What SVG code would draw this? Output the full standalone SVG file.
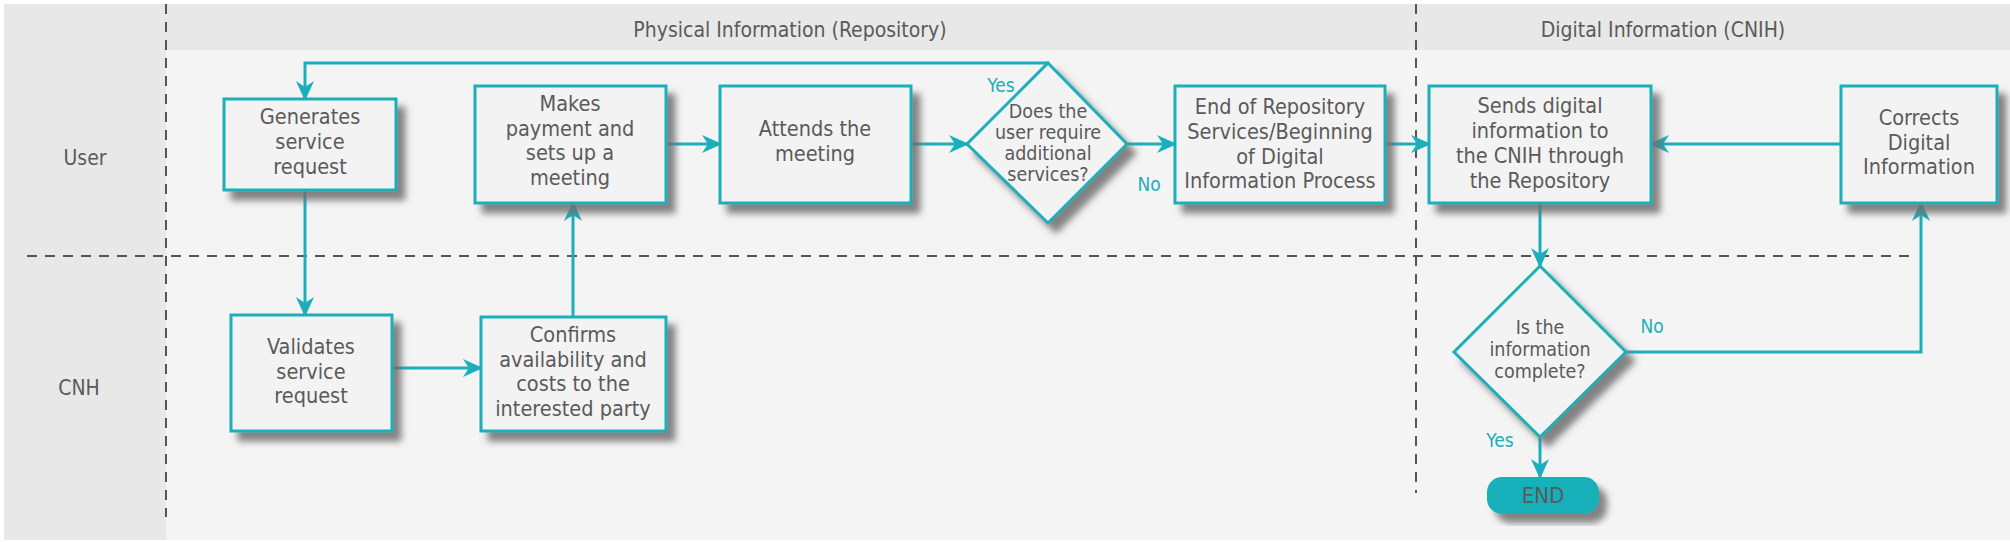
<svg xmlns="http://www.w3.org/2000/svg" width="2010" height="542" viewBox="0 0 2010 542">
<style>
.bg{fill:#f4f4f4}
.band{fill:#e8e8e8}
.sep{stroke:#555;stroke-width:2;stroke-dasharray:10 8;fill:none}
.box{fill:#f3f3f3;stroke:#1aafba;stroke-width:3;filter:url(#sh)}
.end{fill:#17b0bb;stroke:none;filter:url(#sh)}
.t{font-family:"Liberation Sans Narrow","DejaVu Sans Condensed","Liberation Sans",sans-serif;fill:#5a5a5a;text-anchor:middle}
.bt{font-size:21.5px}
.ht{font-size:21px}
.dt{font-size:19.5px}
.et{font-size:22px}
.lab{font-family:"Liberation Sans Narrow","DejaVu Sans Condensed","Liberation Sans",sans-serif;font-size:19px;fill:#1aafba;text-anchor:middle}
.c{stroke:#1aafba;stroke-width:3;fill:none;marker-end:url(#ah)}
</style>
<defs>
<filter id="sh" x="-20%" y="-20%" width="150%" height="150%">
<feDropShadow dx="8" dy="9" stdDeviation="3.5" flood-color="#6e6e6e" flood-opacity="0.85"/>
</filter>
<marker id="ah" viewBox="0 0 20 20" refX="18" refY="10" markerWidth="20" markerHeight="20" markerUnits="userSpaceOnUse" orient="auto">
<path d="M0,1 L20,10 L0,19 L6,10 z" fill="#1aafba"/>
</marker>
</defs>

<g id="background">
<rect class="bg" x="4" y="4" width="2006" height="536"/>
<rect class="band" x="4" y="4" width="162" height="536"/>
<rect class="band" x="166" y="4" width="1844" height="46"/>
<line class="sep" x1="166" y1="4" x2="166" y2="517"/>
<line class="sep" x1="1416" y1="4" x2="1416" y2="493"/>
<line class="sep" x1="27" y1="256" x2="1914" y2="256"/>
<text class="t ht" x="790" y="37">Physical Information (Repository)</text>
<text class="t ht" x="1663" y="37">Digital Information (CNIH)</text>
<text class="t ht" x="85" y="165">User</text>
<text class="t ht" x="79" y="395">CNH</text>
</g>

<g id="connectors">
<line class="c" x1="305" y1="190" x2="305" y2="315"/>
<line class="c" x1="392" y1="368" x2="481" y2="368"/>
<line class="c" x1="573" y1="317" x2="573" y2="203"/>
<line class="c" x1="666" y1="144" x2="720" y2="144"/>
<line class="c" x1="911" y1="144" x2="967" y2="144"/>
<polyline class="c" points="1048,63 305,63 305,99"/>
<line class="c" x1="1127" y1="144" x2="1175" y2="144"/>
<line class="c" x1="1385" y1="144" x2="1429" y2="144"/>
<line class="c" x1="1540" y1="203" x2="1540" y2="266"/>
<polyline class="c" points="1626,352 1921,352 1921,203"/>
<line class="c" x1="1841" y1="144" x2="1651" y2="144"/>
<line class="c" x1="1540" y1="437" x2="1540" y2="477"/>
<text class="lab" x="1001" y="92">Yes</text>
<text class="lab" x="1149" y="191">No</text>
<text class="lab" x="1652" y="333">No</text>
<text class="lab" x="1500" y="447">Yes</text>
</g>

<g id="n-generates">
<rect class="box" x="224" y="99" width="172" height="91"/>
<text class="t bt"><tspan x="310" y="124">Generates</tspan><tspan x="310" y="149">service</tspan><tspan x="310" y="174">request</tspan></text>
</g>
<g id="n-payment">
<rect class="box" x="475" y="86" width="191" height="117"/>
<text class="t bt"><tspan x="570" y="111">Makes</tspan><tspan x="570" y="136">payment and</tspan><tspan x="570" y="160">sets up a</tspan><tspan x="570" y="185">meeting</tspan></text>
</g>
<g id="n-attends">
<rect class="box" x="720" y="86" width="191" height="117"/>
<text class="t bt"><tspan x="815" y="136">Attends the</tspan><tspan x="815" y="161">meeting</tspan></text>
</g>
<g id="n-decision1">
<polygon class="box" points="1048,63 1127,144 1048,223 967,144"/>
<text class="t dt"><tspan x="1048" y="118">Does the</tspan><tspan x="1048" y="139">user require</tspan><tspan x="1048" y="160">additional</tspan><tspan x="1048" y="181">services?</tspan></text>
</g>
<g id="n-endrepo">
<rect class="box" x="1175" y="86" width="210" height="117"/>
<text class="t bt"><tspan x="1280" y="114">End of Repository</tspan><tspan x="1280" y="139">Services/Beginning</tspan><tspan x="1280" y="164">of Digital</tspan><tspan x="1280" y="188">Information Process</tspan></text>
</g>
<g id="n-sends">
<rect class="box" x="1429" y="86" width="222" height="117"/>
<text class="t bt"><tspan x="1540" y="113">Sends digital</tspan><tspan x="1540" y="138">information to</tspan><tspan x="1540" y="163">the CNIH through</tspan><tspan x="1540" y="188">the Repository</tspan></text>
</g>
<g id="n-corrects">
<rect class="box" x="1841" y="86" width="156" height="117"/>
<text class="t bt"><tspan x="1919" y="125">Corrects</tspan><tspan x="1919" y="150">Digital</tspan><tspan x="1919" y="174">Information</tspan></text>
</g>
<g id="n-validates">
<rect class="box" x="231" y="315" width="161" height="116"/>
<text class="t bt"><tspan x="311" y="354">Validates</tspan><tspan x="311" y="379">service</tspan><tspan x="311" y="403">request</tspan></text>
</g>
<g id="n-confirms">
<rect class="box" x="481" y="317" width="185" height="114"/>
<text class="t bt"><tspan x="573" y="342">Confirms</tspan><tspan x="573" y="367">availability and</tspan><tspan x="573" y="391">costs to the</tspan><tspan x="573" y="416">interested party</tspan></text>
</g>
<g id="n-decision2">
<polygon class="box" points="1540,266 1626,352 1540,437 1454,352"/>
<text class="t dt"><tspan x="1540" y="334">Is the</tspan><tspan x="1540" y="356">information</tspan><tspan x="1540" y="378">complete?</tspan></text>
</g>
<g id="n-end">
<rect class="end" x="1487" y="477" width="112" height="37" rx="15"/>
<text class="t et" x="1543" y="503" fill="#4a5e60">END</text>
</g>
</svg>
